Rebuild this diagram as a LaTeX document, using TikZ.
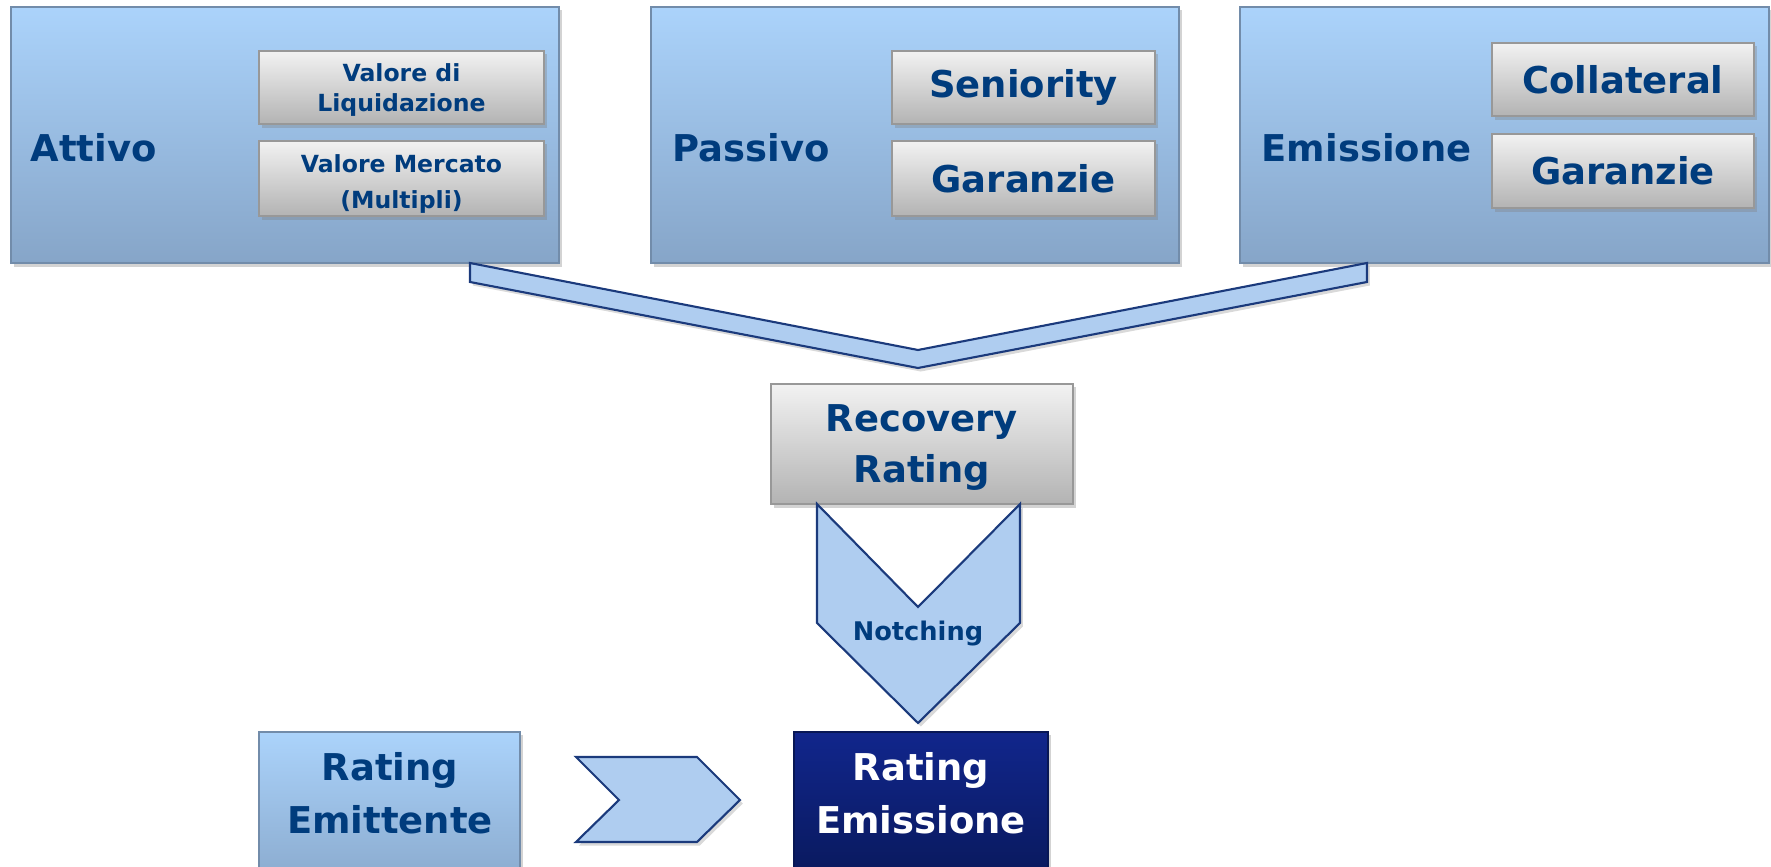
\documentclass[tikz,border=0pt]{standalone}
\usepackage{fontspec}
\setmainfont{DejaVu Sans}
\usepackage{tikz}
\usetikzlibrary{shadows}

\definecolor{boxtop}{HTML}{ABD3FB}
\definecolor{boxbot}{HTML}{86A5C8}
\definecolor{greytop}{HTML}{F2F2F2}
\definecolor{greybot}{HTML}{B3B3B3}
\definecolor{navytop}{HTML}{11268C}
\definecolor{navybot}{HTML}{081755}
\definecolor{arrowfill}{HTML}{AFCDF0}
\definecolor{arrowline}{HTML}{1B3A7C}
\definecolor{textblue}{HTML}{003C7D}

\begin{document}
\begin{tikzpicture}[
        x=0.01cm, y=-0.01cm, % pixel grid, y down
        bigbox/.style={draw=boxbot!85!black, top color=boxtop, bottom color=boxbot, inner sep=0pt,
                       drop shadow={shadow xshift=0.8pt, shadow yshift=-1pt, opacity=0.35}}, % blue panels
        subbox/.style={draw=greybot!85!black, top color=greytop, bottom color=greybot, inner sep=0pt,
                       align=center, text=textblue, font=\bfseries\fontsize{10.5}{14.5}\selectfont,
                       drop shadow={shadow xshift=0.8pt, shadow yshift=-1pt, opacity=0.35}}, % grey keys
        small/.style={font=\bfseries\fontsize{6.7}{8.6}\selectfont}, % small key text
        title/.style={text=textblue, font=\bfseries\fontsize{10.5}{15}\selectfont, align=center, inner sep=0pt},
        chevron/.style={draw=arrowline, fill=arrowfill, line width=0.6pt, line join=miter,
                        drop shadow={shadow xshift=0.8pt, shadow yshift=-1pt, opacity=0.3}} % block arrows
        ]
        \useasboundingbox (0,0) rectangle (1771,867);
        \clip (0,0) rectangle (1771,867);

        % top panels
        \node[bigbox, minimum width=5.48cm, minimum height=2.56cm] (attivo) at (285,135) {};
        \node[bigbox, minimum width=5.28cm, minimum height=2.56cm] (passivo) at (915,135) {};
        \node[bigbox, minimum width=5.29cm, minimum height=2.56cm] (emissione) at (1504.5,135) {};
        \node[title, anchor=west] (attivotxt) at (30,148) {Attivo};
        \node[title, anchor=west] (passivotxt) at (672,148) {Passivo};
        \node[title, anchor=west] (emissionetxt) at (1261,148) {Emissione};

        \node[subbox, minimum width=2.85cm, minimum height=0.73cm] (liquid) at (401.5,87.5) {};
        \node[title, small] (liquidtxt) at (401.5,90) {Valore di\\Liquidazione};
        \node[subbox, minimum width=2.85cm, minimum height=0.75cm] (mercato) at (401.5,178.5) {};
        \node[title, small, font=\bfseries\fontsize{6.7}{10.3}\selectfont] (mercatotxt) at (401.5,184) {Valore Mercato\\(Multipli)};
        \node[subbox, minimum width=2.63cm, minimum height=0.73cm] (seniority) at (1023.5,87.5) {Seniority};
        \node[subbox, minimum width=2.63cm, minimum height=0.75cm] (garanziep) at (1023.5,178.5) {Garanzie};
        \node[subbox, minimum width=2.62cm, minimum height=0.73cm] (collateral) at (1623,79.5) {Collateral};
        \node[subbox, minimum width=2.62cm, minimum height=0.74cm] (garanziee) at (1623,171) {Garanzie};

        % merging arrow
        \draw[chevron] (470,263) -- (918,350) -- (1367,263) -- (1367,282) -- (918,368) -- (470,282) -- cycle;

        \node[subbox, minimum width=3.02cm, minimum height=1.2cm] (recovery) at (922,444) {};
        \node[title, font=\bfseries\fontsize{10.5}{14.5}\selectfont] (recoverytxt) at (922,448) {Recovery\\Rating};

        % notching arrow
        \draw[chevron] (817,504) -- (918,607) -- (1020,504) -- (1020,623) -- (918,723) -- (817,623) -- cycle;
        \node[title, font=\bfseries\fontsize{7.3}{9}\selectfont] (notching) at (918,634) {Notching};

        % bottom row
        \node[bigbox, minimum width=2.61cm, minimum height=1.7cm] (emittente) at (389.5,817) {};
        \node[title] (emittentetxt) at (390,793) {Rating\\Emittente};
        \draw[chevron] (576,757) -- (697,757) -- (740,800) -- (697,842) -- (576,842) -- (619,800) -- cycle;
        \node[bigbox, draw=navybot, top color=navytop, bottom color=navybot, minimum width=2.54cm, minimum height=1.7cm] (ratingem) at (921,817) {};
        \node[title, text=white] (ratingemtxt) at (921,793) {Rating\\Emissione};
\end{tikzpicture}
\end{document}
